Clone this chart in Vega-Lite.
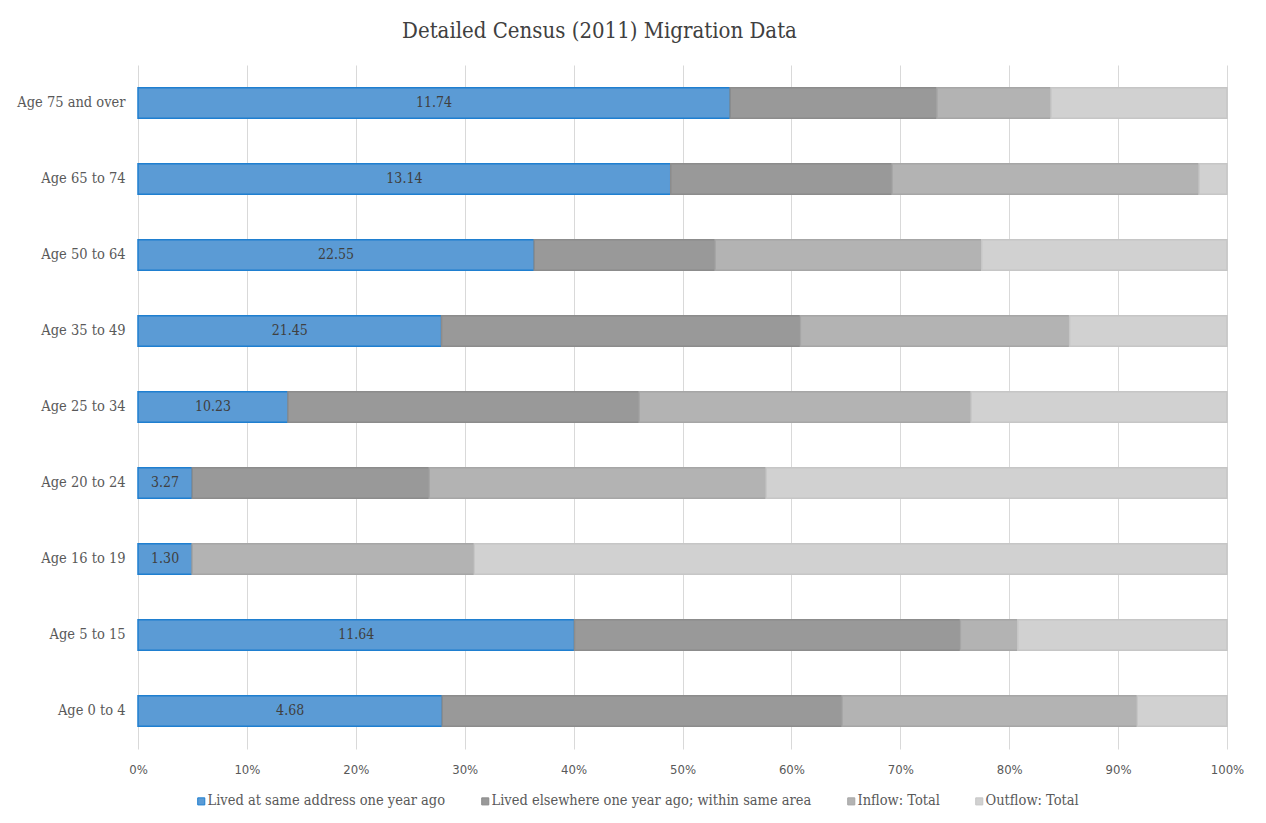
{
  "$schema": "https://vega.github.io/schema/vega-lite/v6.json",
  "width": 1089,
  "height": 684,
  "autosize": {"type": "none"},
  "padding": {"left": 138, "top": 65, "right": 39, "bottom": 74},
  "background": "white",
  "title": {
    "text": "Detailed Census (2011) Migration Data",
    "font": "DejaVu Serif Condensed",
    "fontSize": 22,
    "fontWeight": "normal",
    "color": "#404040",
    "anchor": "middle",
    "dx": -83,
    "offset": 22
  },
  "data": {
    "values": [
      {"age": "Age 75 and over", "series": "Lived at same address one year ago", "o": 1, "value": 11.74},
      {"age": "Age 75 and over", "series": "Lived elsewhere one year ago; within same area", "o": 2, "value": 4.10},
      {"age": "Age 75 and over", "series": "Inflow: Total", "o": 3, "value": 2.26},
      {"age": "Age 75 and over", "series": "Outflow: Total", "o": 4, "value": 3.49},
      {"age": "Age 65 to 74", "series": "Lived at same address one year ago", "o": 1, "value": 13.14},
      {"age": "Age 65 to 74", "series": "Lived elsewhere one year ago; within same area", "o": 2, "value": 5.46},
      {"age": "Age 65 to 74", "series": "Inflow: Total", "o": 3, "value": 7.57},
      {"age": "Age 65 to 74", "series": "Outflow: Total", "o": 4, "value": 0.69},
      {"age": "Age 50 to 64", "series": "Lived at same address one year ago", "o": 1, "value": 22.55},
      {"age": "Age 50 to 64", "series": "Lived elsewhere one year ago; within same area", "o": 2, "value": 10.30},
      {"age": "Age 50 to 64", "series": "Inflow: Total", "o": 3, "value": 15.17},
      {"age": "Age 50 to 64", "series": "Outflow: Total", "o": 4, "value": 13.96},
      {"age": "Age 35 to 49", "series": "Lived at same address one year ago", "o": 1, "value": 21.45},
      {"age": "Age 35 to 49", "series": "Lived elsewhere one year ago; within same area", "o": 2, "value": 25.35},
      {"age": "Age 35 to 49", "series": "Inflow: Total", "o": 3, "value": 19.02},
      {"age": "Age 35 to 49", "series": "Outflow: Total", "o": 4, "value": 11.12},
      {"age": "Age 25 to 34", "series": "Lived at same address one year ago", "o": 1, "value": 10.23},
      {"age": "Age 25 to 34", "series": "Lived elsewhere one year ago; within same area", "o": 2, "value": 23.96},
      {"age": "Age 25 to 34", "series": "Inflow: Total", "o": 3, "value": 22.64},
      {"age": "Age 25 to 34", "series": "Outflow: Total", "o": 4, "value": 17.46},
      {"age": "Age 20 to 24", "series": "Lived at same address one year ago", "o": 1, "value": 3.27},
      {"age": "Age 20 to 24", "series": "Lived elsewhere one year ago; within same area", "o": 2, "value": 14.29},
      {"age": "Age 20 to 24", "series": "Inflow: Total", "o": 3, "value": 20.31},
      {"age": "Age 20 to 24", "series": "Outflow: Total", "o": 4, "value": 27.79},
      {"age": "Age 16 to 19", "series": "Lived at same address one year ago", "o": 1, "value": 1.30},
      {"age": "Age 16 to 19", "series": "Lived elsewhere one year ago; within same area", "o": 2, "value": 0},
      {"age": "Age 16 to 19", "series": "Inflow: Total", "o": 3, "value": 6.76},
      {"age": "Age 16 to 19", "series": "Outflow: Total", "o": 4, "value": 18.04},
      {"age": "Age 5 to 15", "series": "Lived at same address one year ago", "o": 1, "value": 11.64},
      {"age": "Age 5 to 15", "series": "Lived elsewhere one year ago; within same area", "o": 2, "value": 10.29},
      {"age": "Age 5 to 15", "series": "Inflow: Total", "o": 3, "value": 1.53},
      {"age": "Age 5 to 15", "series": "Outflow: Total", "o": 4, "value": 5.58},
      {"age": "Age 0 to 4", "series": "Lived at same address one year ago", "o": 1, "value": 4.68},
      {"age": "Age 0 to 4", "series": "Lived elsewhere one year ago; within same area", "o": 2, "value": 6.15},
      {"age": "Age 0 to 4", "series": "Inflow: Total", "o": 3, "value": 4.54},
      {"age": "Age 0 to 4", "series": "Outflow: Total", "o": 4, "value": 1.38}
    ]
  },
  "encoding": {
    "y": {
      "field": "age",
      "type": "nominal",
      "sort": ["Age 75 and over", "Age 65 to 74", "Age 50 to 64", "Age 35 to 49", "Age 25 to 34", "Age 20 to 24", "Age 16 to 19", "Age 5 to 15", "Age 0 to 4"],
      "scale": {"paddingInner": 0.6, "paddingOuter": 0.3},
      "axis": {
        "title": null,
        "domain": false,
        "ticks": false,
        "labelPadding": 13,
        "labelFont": "DejaVu Serif Condensed",
        "labelFontSize": 14.5,
        "labelColor": "#595959"
      }
    }
  },
  "layer": [
    {
      "mark": {"type": "bar", "strokeWidth": 1.5},
      "encoding": {
        "x": {
          "field": "value",
          "type": "quantitative",
          "stack": "normalize",
          "scale": {"domain": [0, 1], "nice": false},
          "axis": {
            "title": null,
            "format": ".0%",
            "values": [0, 0.1, 0.2, 0.3, 0.4, 0.5, 0.6, 0.7, 0.8, 0.9, 1],
            "domain": false,
            "ticks": false,
            "grid": true,
            "gridColor": "#d9d9d9",
            "gridWidth": 1,
            "labelPadding": 14,
            "labelAlign": "center",
            "labelFlush": false,
            "labelFont": "DejaVu Sans Condensed",
            "labelFontSize": 13,
            "labelColor": "#595959"
          }
        },
        "order": {"field": "o", "type": "quantitative"},
        "color": {
          "field": "series",
          "type": "nominal",
          "scale": {
            "domain": ["Lived at same address one year ago", "Lived elsewhere one year ago; within same area", "Inflow: Total", "Outflow: Total"],
            "range": ["#5b9bd5", "#999999", "#b3b3b3", "#d1d1d1"]
          },
          "legend": {
            "title": null,
            "orient": "none",
            "legendX": 56,
            "legendY": 729,
            "direction": "horizontal",
            "columns": 4,
            "symbolType": "square",
            "symbolSize": 50,
            "symbolStrokeWidth": 1,
            "labelOffset": -1,
            "columnPadding": 32,
            "labelFont": "DejaVu Serif Condensed",
            "labelFontSize": 14.5,
            "labelColor": "#595959",
            "labelLimit": 400
          }
        },
        "stroke": {
          "field": "series",
          "type": "nominal",
          "scale": {
            "domain": ["Lived at same address one year ago", "Lived elsewhere one year ago; within same area", "Inflow: Total", "Outflow: Total"],
            "range": ["#1f7fd0", "#8c8c8c", "#a6a6a6", "#c6c6c6"]
          },
          "legend": null
        }
      }
    },
    {
      "transform": [
        {"joinaggregate": [{"op": "sum", "field": "value", "as": "total"}], "groupby": ["age"]},
        {"filter": "datum.o === 1"},
        {"calculate": "datum.value / datum.total / 2", "as": "mid"}
      ],
      "mark": {"type": "text", "font": "DejaVu Serif Condensed", "fontSize": 14, "color": "#404040", "baseline": "middle", "align": "center"},
      "encoding": {
        "x": {"field": "mid", "type": "quantitative"},
        "text": {"field": "value", "type": "quantitative", "format": ".2f"}
      }
    }
  ],
  "config": {
    "view": {"stroke": null}
  }
}
